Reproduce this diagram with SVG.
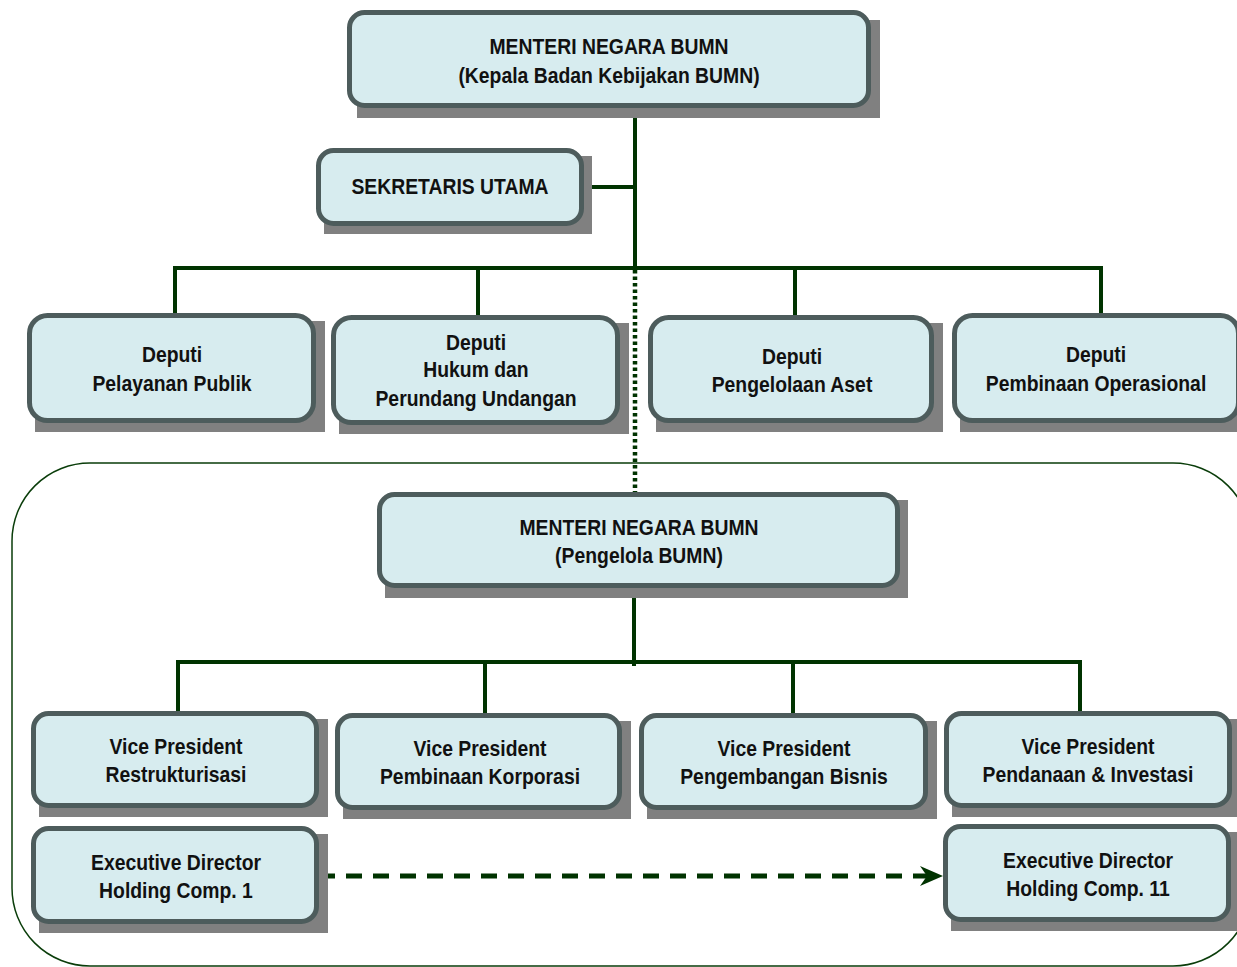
<svg xmlns="http://www.w3.org/2000/svg" width="1237" height="967" viewBox="0 0 1237 967">
<style>
.sh{fill:#808080}
.bx{fill:#d7ecef;stroke:#4d5c5c;stroke-width:5}
.t{font-family:"Liberation Sans",Arial,sans-serif;font-size:22px;font-weight:bold;fill:#111;text-anchor:middle}
.ln{stroke:#003300;stroke-width:4;fill:none}
</style>
<defs>
<marker id="ah" markerWidth="10" markerHeight="10" refX="8" refY="5" orient="auto" markerUnits="userSpaceOnUse" viewBox="0 0 10 10">
<path d="M0,0 L10,5 L0,10 L3,5 Z" fill="#003300"/>
</marker>
</defs>
<rect x="12" y="463" width="1239" height="503" rx="78" ry="78" fill="none" stroke="#0a3d0a" stroke-width="1.5"/>
<g id="connectors">
<path class="ln" d="M635,108 V268 M584,187 H635 M175,268 H1101 M175,266 V313 M478,266 V315 M795,266 V315 M1101,266 V313"/>
<path d="M635,270 V492" stroke="#003300" stroke-width="4.5" stroke-dasharray="3.5,3" fill="none"/>
<path class="ln" d="M634,588 V666 M178,662 H1080 M178,660 V711 M485,660 V713 M793,660 V713 M1080,660 V711"/>
<path d="M319,876 H935" stroke="#003300" stroke-width="5" stroke-dasharray="16,11" fill="none"/>
<path d="M920,866 L943,876 L920,886 L927,876 Z" fill="#003300"/>
</g>
<g id="menteri1"><rect class="sh" x="357" y="20" width="523" height="98"/><rect class="bx" x="349.5" y="12.5" width="519" height="93" rx="15"/><text class="t" transform="translate(609,54) scale(0.88,1)">MENTERI NEGARA BUMN</text><text class="t" transform="translate(609,83) scale(0.88,1)">(Kepala Badan Kebijakan BUMN)</text></g>
<g id="sekretaris"><rect class="sh" x="324" y="156" width="268" height="78"/><rect class="bx" x="318.5" y="150.5" width="263" height="73" rx="15"/><text class="t" transform="translate(450,194) scale(0.88,1)">SEKRETARIS UTAMA</text></g>
<g id="deputi1"><rect class="sh" x="35" y="321" width="290" height="111"/><rect class="bx" x="29.5" y="315.5" width="284" height="105" rx="18"/><text class="t" transform="translate(172,362) scale(0.88,1)">Deputi</text><text class="t" transform="translate(172,391) scale(0.88,1)">Pelayanan Publik</text></g>
<g id="deputi2"><rect class="sh" x="339" y="323" width="290" height="111"/><rect class="bx" x="333.5" y="317.5" width="284" height="105" rx="18"/><text class="t" transform="translate(476,350) scale(0.88,1)">Deputi</text><text class="t" transform="translate(476,377) scale(0.88,1)">Hukum dan</text><text class="t" transform="translate(476,406) scale(0.88,1)">Perundang Undangan</text></g>
<g id="deputi3"><rect class="sh" x="656" y="323" width="287" height="109"/><rect class="bx" x="650.5" y="317.5" width="281" height="103" rx="18"/><text class="t" transform="translate(792,364) scale(0.88,1)">Deputi</text><text class="t" transform="translate(792,392) scale(0.88,1)">Pengelolaan Aset</text></g>
<g id="deputi4"><rect class="sh" x="960" y="321" width="290" height="111"/><rect class="bx" x="954.5" y="315.5" width="284" height="105" rx="18"/><text class="t" transform="translate(1096,362) scale(0.88,1)">Deputi</text><text class="t" transform="translate(1096,391) scale(0.88,1)">Pembinaan Operasional</text></g>
<g id="menteri2"><rect class="sh" x="385" y="500" width="523" height="98"/><rect class="bx" x="379.5" y="494.5" width="518" height="91" rx="15"/><text class="t" transform="translate(639,535) scale(0.88,1)">MENTERI NEGARA BUMN</text><text class="t" transform="translate(639,563) scale(0.88,1)">(Pengelola BUMN)</text></g>
<g id="vp1"><rect class="sh" x="39" y="719" width="289" height="98"/><rect class="bx" x="33.5" y="713.5" width="283" height="92" rx="15"/><text class="t" transform="translate(176,754) scale(0.88,1)">Vice President</text><text class="t" transform="translate(176,782) scale(0.88,1)">Restrukturisasi</text></g>
<g id="vp2"><rect class="sh" x="343" y="721" width="288" height="98"/><rect class="bx" x="337.5" y="715.5" width="282" height="92" rx="15"/><text class="t" transform="translate(480,756) scale(0.88,1)">Vice President</text><text class="t" transform="translate(480,784) scale(0.88,1)">Pembinaan Korporasi</text></g>
<g id="vp3"><rect class="sh" x="647" y="721" width="290" height="98"/><rect class="bx" x="641.5" y="715.5" width="284" height="92" rx="15"/><text class="t" transform="translate(784,756) scale(0.88,1)">Vice President</text><text class="t" transform="translate(784,784) scale(0.88,1)">Pengembangan Bisnis</text></g>
<g id="vp4"><rect class="sh" x="952" y="719" width="289" height="98"/><rect class="bx" x="946.5" y="713.5" width="283" height="92" rx="15"/><text class="t" transform="translate(1088,754) scale(0.88,1)">Vice President</text><text class="t" transform="translate(1088,782) scale(0.88,1)">Pendanaan &amp; Investasi</text></g>
<g id="exec1"><rect class="sh" x="39" y="834" width="289" height="99"/><rect class="bx" x="33.5" y="828.5" width="283" height="93" rx="15"/><text class="t" transform="translate(176,870) scale(0.88,1)">Executive Director</text><text class="t" transform="translate(176,898) scale(0.88,1)">Holding Comp. 1</text></g>
<g id="exec11"><rect class="sh" x="951" y="832" width="289" height="99"/><rect class="bx" x="945.5" y="826.5" width="283" height="93" rx="15"/><text class="t" transform="translate(1088,868) scale(0.88,1)">Executive Director</text><text class="t" transform="translate(1088,896) scale(0.88,1)">Holding Comp. 11</text></g>
</svg>
